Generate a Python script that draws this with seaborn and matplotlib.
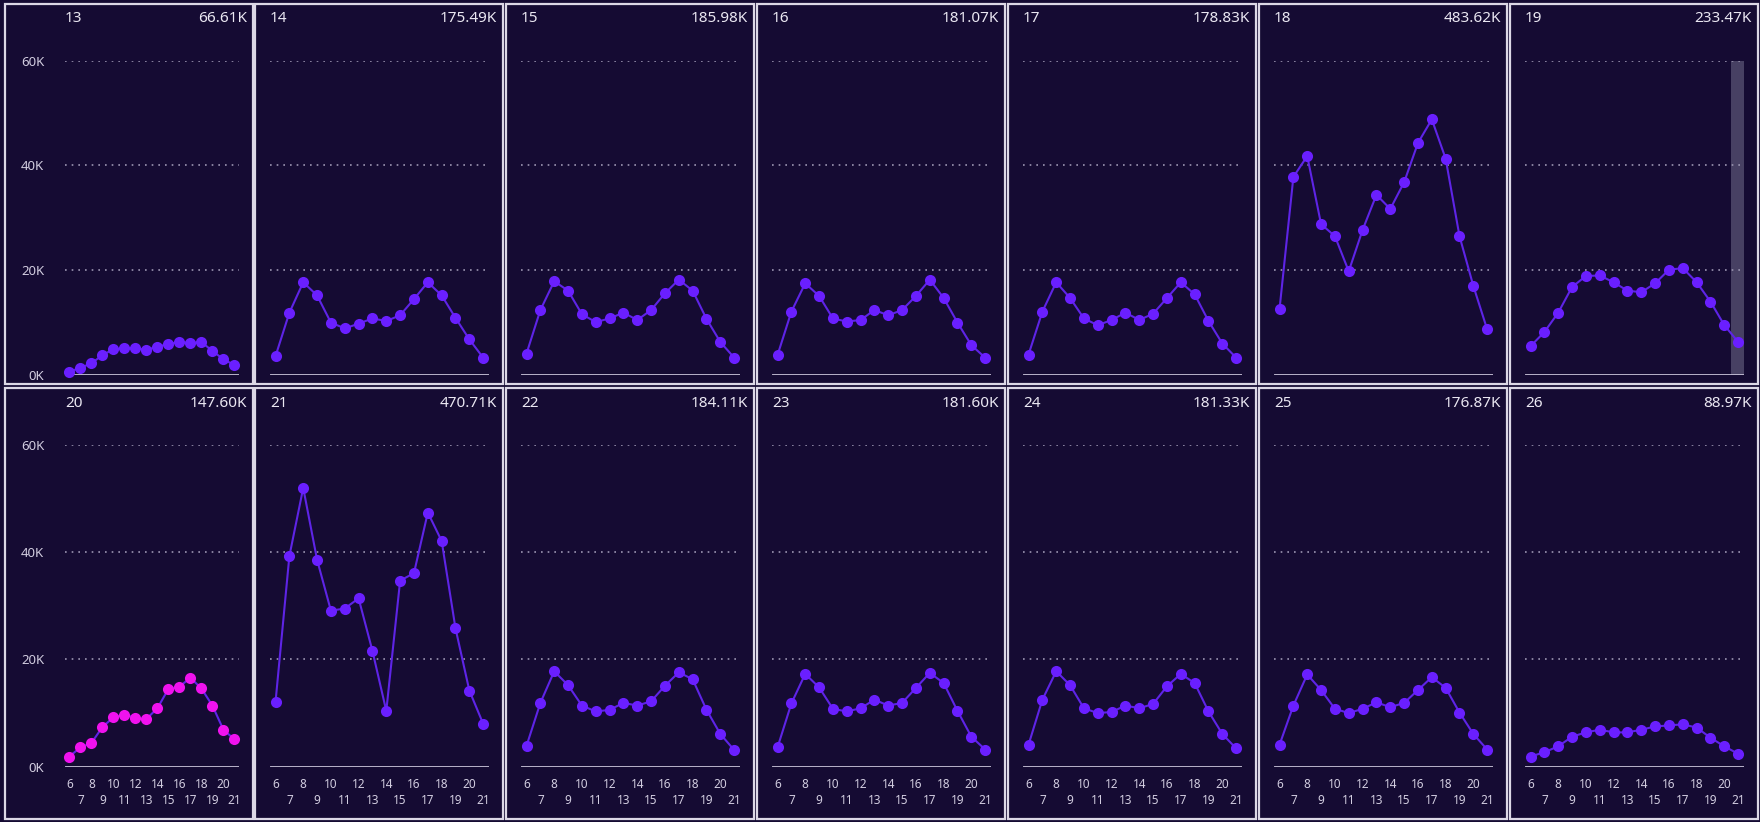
import matplotlib
matplotlib.use("Agg")
import matplotlib.pyplot as plt
import matplotlib.patches as patches
import seaborn as sns

# Hourly values (thousands) per day, hours 6..21
hours = list(range(6, 22))

days = [13, 14, 15, 16, 17, 18, 19, 20, 21, 22, 23, 24, 25, 26]
totals = ["66.61K", "175.49K", "185.98K", "181.07K", "178.83K", "483.62K", "233.47K",
          "147.60K", "470.71K", "184.11K", "181.60K", "181.33K", "176.87K", "88.97K"]

day_13 = [0.6, 1.4, 2.2, 3.8, 4.9, 5.1, 5.1, 4.8, 5.4, 5.9, 6.3, 6.1, 6.3, 4.6, 3.0, 1.9]
day_14 = [3.6, 11.9, 17.7, 15.2, 10.0, 8.9, 9.8, 10.8, 10.3, 11.4, 14.5, 17.7, 15.2, 10.9, 6.8, 3.3]
day_15 = [4.1, 12.4, 17.9, 16.1, 11.6, 10.1, 10.8, 11.9, 10.5, 12.4, 15.6, 18.2, 16.1, 10.7, 6.3, 3.3]
day_16 = [3.8, 12.1, 17.5, 15.1, 10.8, 10.2, 10.5, 12.4, 11.4, 12.4, 15.1, 18.2, 14.7, 10.0, 5.7, 3.3]
day_17 = [3.9, 12.1, 17.7, 14.7, 10.8, 9.5, 10.5, 11.9, 10.5, 11.7, 14.7, 17.7, 15.4, 10.3, 6.0, 3.3]
day_18 = [12.6, 37.8, 41.8, 28.8, 26.5, 19.8, 27.7, 34.4, 31.7, 36.8, 44.3, 48.8, 41.3, 26.5, 17.0, 8.7]
day_19 = [5.5, 8.2, 11.9, 16.8, 18.9, 19.0, 17.7, 16.1, 15.8, 17.5, 20.1, 20.4, 17.7, 14.0, 9.5, 6.3]
day_20 = [1.9, 3.6, 4.4, 7.4, 9.2, 9.7, 9.1, 8.9, 10.9, 14.5, 14.9, 16.6, 14.6, 11.4, 6.9, 5.1]
day_21 = [12.1, 39.3, 52.0, 38.6, 29.1, 29.5, 31.4, 21.6, 10.4, 34.7, 36.1, 47.4, 42.1, 25.8, 14.2, 8.0]
day_22 = [3.9, 11.9, 17.8, 15.2, 11.4, 10.3, 10.6, 11.9, 11.4, 12.2, 15.1, 17.6, 16.3, 10.6, 6.1, 3.1]
day_23 = [3.6, 11.8, 17.3, 14.8, 10.8, 10.3, 10.9, 12.5, 11.4, 11.9, 14.7, 17.5, 15.6, 10.4, 5.6, 3.2]
day_24 = [4.1, 12.5, 17.8, 15.2, 10.9, 10.0, 10.2, 11.4, 10.9, 11.7, 15.0, 17.3, 15.6, 10.3, 6.1, 3.4]
day_25 = [4.1, 11.4, 17.2, 14.3, 10.8, 10.0, 10.8, 12.0, 11.1, 11.9, 14.3, 16.7, 14.7, 10.1, 6.1, 3.2]
day_26 = [1.9, 2.7, 3.8, 5.6, 6.4, 6.9, 6.4, 6.4, 6.9, 7.5, 7.7, 7.9, 7.3, 5.4, 3.8, 2.4]

series = [day_13, day_14, day_15, day_16, day_17, day_18, day_19,
          day_20, day_21, day_22, day_23, day_24, day_25, day_26]

highlight_day = 20
shaded_day = 19

W, H = 1760, 822
bg = "#150b33"
line_col = "#5e24e6"
dot_col = "#6a1fff"
pink = "#f012ee"
grid_col = "#9c96b2"
text_col = "#eae7f2"
tick_col = "#d2cde0"

sns.set_style("dark")
plt.rcParams["font.family"] = ["Noto Sans", "DejaVu Sans"]

fig = plt.figure(figsize=(W / 100, H / 100), dpi=100, facecolor=bg)

cell_lefts = [5, 255, 506, 757, 1008, 1259, 1510]
cell_w = 248
row_tops = [4, 388]
row_bots = [384, 819]
zero_y = [375, 766.7]
top_y = [60.7, 445]
title_y = [19, 403]

for i, (day, vals, tot) in enumerate(zip(days, series, totals)):
    r, c = divmod(i, 7)
    x0 = cell_lefts[c]
    fig.add_artist(patches.Rectangle((x0 / W, 1 - row_bots[r] / H), cell_w / W,
                                     (row_bots[r] - row_tops[r]) / H,
                                     transform=fig.transFigure, fill=False,
                                     edgecolor="#dcd8e6", lw=1.6))

    ax_l = x0 + (60 if c == 0 else 15)
    ax_r = x0 + cell_w - 14
    ax = fig.add_axes([ax_l / W, 1 - zero_y[r] / H, (ax_r - ax_l) / W,
                       (zero_y[r] - top_y[r]) / H])
    ax.set_facecolor(bg)
    for s in ax.spines.values():
        s.set_visible(False)
    ax.grid(False)

    if day == shaded_day:
        ax.axvspan(20.45, 21.45, color="#4a4466", alpha=0.95, zorder=0.5, lw=0)
    for g in [20000, 40000, 60000]:
        ax.axhline(g, color=grid_col, ls=(0, (1, 3)), lw=1.2, zorder=1)
    ax.axhline(0, color="#c8c2d8", lw=2, zorder=1)

    y = [v * 1000 for v in vals]
    face = pink if day == highlight_day else dot_col
    sns.lineplot(x=hours, y=y, ax=ax, color=line_col, marker="o", markersize=8,
                 markerfacecolor=face, markeredgewidth=0, linewidth=1.5,
                 errorbar=None, clip_on=False, zorder=3)

    ax.set_xlim(5.6, 21.42)
    ax.set_ylim(0, 60000)
    ax.set_xlabel("")
    ax.set_ylabel("")

    if c == 0:
        ax.set_yticks([0, 20000, 40000, 60000], labels=["0K", "20K", "40K", "60K"])
        ax.tick_params(axis="y", length=0, pad=15, labelsize=9.5, labelcolor=tick_col)
    else:
        ax.set_yticks([])

    if r == 1:
        ax.set_xticks(hours[::2], labels=[str(h) for h in hours[::2]])
        ax.set_xticks(hours[1::2], labels=[str(h) for h in hours[1::2]], minor=True)
        ax.tick_params(axis="x", which="major", length=0, pad=8, labelsize=8.5,
                       labelcolor=tick_col)
        ax.tick_params(axis="x", which="minor", length=0, pad=20, labelsize=8.5,
                       labelcolor=tick_col)
    else:
        ax.set_xticks([])

    fig.text(ax_l / W, 1 - title_y[r] / H, str(day), ha="left", va="center",
             fontsize=11, color=text_col)
    fig.text((x0 + cell_w - 6) / W, 1 - title_y[r] / H, tot, ha="right", va="center",
             fontsize=11, color=text_col)

fig.savefig("out.png", dpi=100, facecolor=bg)
